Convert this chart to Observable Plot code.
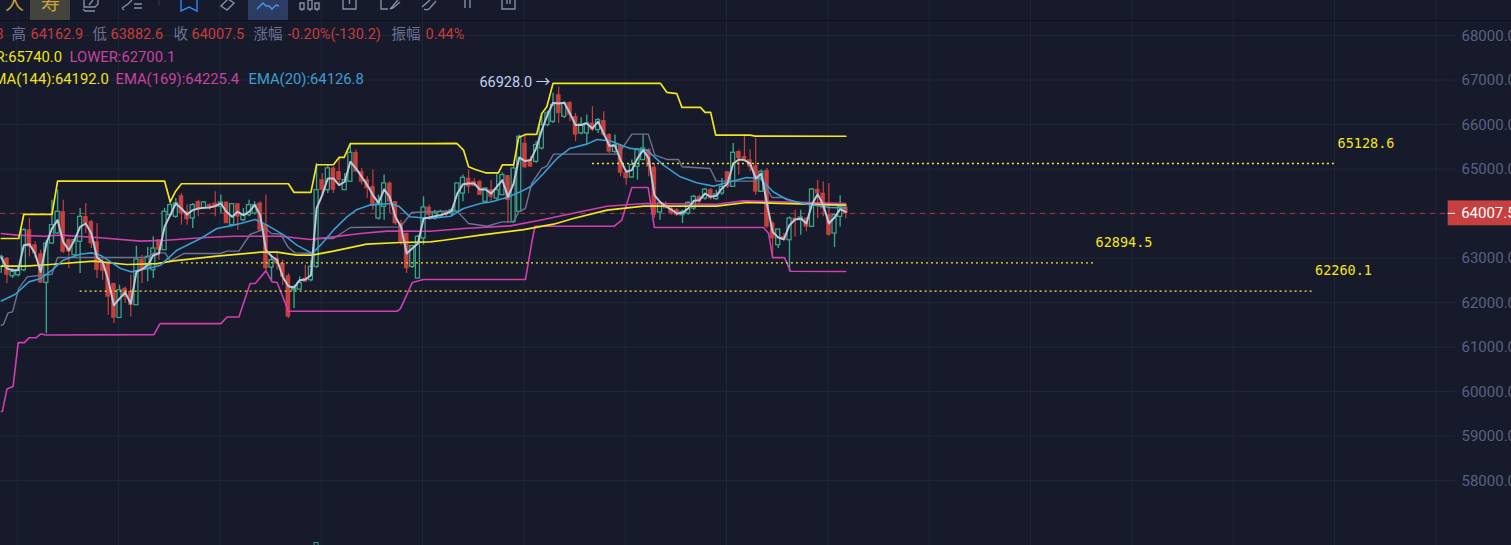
<!DOCTYPE html>
<html><head><meta charset="utf-8">
<script src="https://cdn.jsdelivr.net/npm/d3@7"></script>
<script src="https://cdn.jsdelivr.net/npm/@observablehq/plot@0.6"></script>
<style>
html,body{margin:0;padding:0;background:#161a2b;overflow:hidden}
#wrap{position:relative;width:1511px;height:545px;overflow:hidden}
#bar{position:absolute;left:0;top:0;width:1511px;height:20px;border-bottom:1px solid #0e1120;overflow:hidden;font-family:"Noto Sans CJK SC";}
#bar svg{position:absolute;left:0;top:0}
#bar .t{position:absolute;font-size:19px;line-height:20px;top:-8px;color:#c9a43a}
</style></head><body><div id="wrap"><div id="chart"></div><div id="bar">
<div style="position:absolute;left:30px;top:0;width:40px;height:20px;background:#45433d"></div>
<div style="position:absolute;left:248px;top:0;width:40px;height:20px;background:#2c3c63"></div>
<div class="t" style="left:5px">人</div><div class="t" style="left:41px">寿</div>
<svg width="1511" height="20" fill="none" stroke="#868da6" stroke-width="1.4">
<path d="M84 0v7h11l3-3V0M83 9l2 2h10M89 5l4-5"/><path d="M122 8l6-4 4-4M122 8l2 2M134 4h8M134 8h8"/>
<path d="M159 0v6" stroke="#2c3044"/>
<path d="M181 -2v13l8-4 8 4V-2" stroke="#2f86f0"/>
<path d="M221 6l7-7 6 4-7 7z"/>
<path d="M257 9l6-6 3 3 3 0 3 3 4-4 3 1" stroke="#4c95ee"/>
<path d="M300 3h4v6h-4zM308 0h4v9h-4zM315 3h4v6h-4zM302 9v2M310 9v2M317 9v2"/>
<path d="M343 -1v10h13V-1M349.500 0v4"/><path d="M381 -1v10h7M398 0l-6 7-2 2 3-1 7-6"/>
<path d="M422 7l8-7M424 9q3 2 6-1l6-7"/><path d="M465 0v8M470 0v8"/><path d="M502 -1v10h13V-1M507 0v4M510 0v4"/>
</svg></div></div>
<script>
const open=[62805,62993,62595,62618,62730,63630,63293,63090,62445,63330,
63555,64043,63405,63068,63368,63930,63818,63368,62880,62880,
62430,61658,62318,62243,61943,62970,62768,62730,63405,63180,
63968,63930,64395,64043,63893,64268,64118,64193,64230,64155,
64253,63743,64215,63855,63968,64005,64230,63743,62790,62993,
62880,62595,62280,62295,62543,62505,62805,64755,64530,65018,
64943,64530,64718,65370,64943,64755,64605,63893,64155,64680,
64268,63780,63555,62805,62543,63443,64140,63893,63944,64042,
64004,64042,64454,64792,64717,64717,64267,64529,64342,64417,
64852,63817,64042,65579,65204,65167,65467,65992,66067,66667,
66179,66494,66179,65804,65804,66029,65879,66089,65767,65392,
65527,64919,64814,65054,65204,65429,65039,64027,64229,64117,
64079,63967,64004,64117,64379,64342,64529,64327,64454,64942,
64604,65392,65279,65204,65069,64492,64964,63779,63292,63479,
63404,63892,63854,63892,63704,64544,64454,63967,63554,63929,64137.7];
const close=[63030,62618,62693,62730,63630,63255,63105,62445,63330,63743,
64043,63143,63143,63405,63930,63780,63330,62730,62715,62130,
61658,62280,62130,61943,62970,62730,63030,63218,63180,64043,
64193,64230,64005,63870,64193,64118,64253,64140,64140,64253,
63780,64215,63930,63968,64193,64193,63630,62768,62955,62880,
62580,61680,62318,62445,62468,62805,64530,64530,65018,64530,
64755,64755,65370,64943,64718,64568,64193,64230,64680,64268,
63780,63368,62768,63270,63480,64140,63968,64005,64042,63967,
64079,64679,64807,64604,64619,64417,64567,64379,64529,64867,
64300,65017,65729,65039,65054,65542,65992,66254,66442,66254,
66479,66217,65767,66007,66029,65879,66104,65767,65392,65542,
64919,64792,65092,65429,65467,65054,63967,64229,64117,64004,
63967,64042,64244,64379,64267,64542,64342,64432,64604,64604,
65369,65242,65204,65054,64492,64942,63704,63442,63644,63404,
63892,63854,63914,63704,64544,64454,64117,63517,63967,64154,64007.5];
const high=[63068,63015,62768,62805,63668,63893,63368,63180,63405,64305,
64530,64305,63443,63443,64118,64230,63855,63780,62993,62880,
62430,62393,62355,62618,63270,63068,63240,63480,63405,64118,
64268,64343,64455,64193,64230,64305,64268,64230,64493,64418,
64268,64230,64230,64118,64305,64268,64268,64418,63068,63105,
62955,62655,62393,62580,62843,62955,65130,64905,65093,65055,
65243,64905,65580,65430,65018,64830,64980,64418,64868,64718,
64268,63855,63555,63293,63518,64380,64193,64080,64079,64079,
64117,64679,64867,64979,64792,64754,64567,64754,64882,64917,
64852,65092,65767,65767,65279,65617,66254,66304,66704,66850,
66517,66517,66254,66157,66217,66404,66142,66292,65804,65767,
65542,64979,65204,65467,65767,65467,65129,64267,64267,64154,
64117,64079,64267,64417,64417,64567,64567,64529,64792,64942,
65579,65429,65767,65429,65692,64979,65017,63817,63644,63554,
63929,64079,64079,63914,64567,64754,64717,64679,63989,64402,64162.9];
const low=[62655,62430,62543,62580,62693,63030,62993,62430,61305,63315,
63555,63105,62768,63030,62655,63555,63218,62543,62505,61718,
61530,61658,61980,61680,61943,62430,62468,62543,62955,63180,
63930,63893,63743,63743,63668,63930,64118,64080,63930,64005,
63780,63705,63630,63818,63930,63968,63593,62693,62505,62730,
62393,61643,61868,62280,62468,62468,62768,64418,64455,64455,
64605,64515,64718,64943,64643,64343,64080,63855,63855,64005,
63743,63293,62655,62768,62543,63293,63855,63855,63892,63929,
63929,64042,64267,64454,64604,64417,64229,64267,64304,64417,
63780,63779,64042,65017,65039,65129,65429,65954,66029,66029,
66142,66067,65617,65767,65542,65842,65804,65729,65354,65354,
64829,64642,64792,64754,65204,64829,63892,63854,64117,63967,
63929,63779,63967,64079,64229,64304,64304,64304,64417,64567,
64589,64867,65204,64942,64417,64477,63667,62992,63217,63367,
62692,63479,63517,63592,63704,63892,63929,63494,63239,63704,63882.6];
const fastLine=[63015,62768,62730,62730,63293,63315,63105,62693,63330,63668,
63855,63368,63180,63405,63705,63780,63555,63015,62918,62505,
61943,62093,62228,61980,62693,62753,62843,63068,63105,63705,
63968,64230,64118,63983,64080,64118,64133,64140,64170,64230,
64043,63930,64043,63968,64043,64193,63968,63180,63045,62955,
62580,62370,62340,62505,62520,62618,64118,64418,64793,64793,
64643,64718,65168,65018,64830,64643,64418,64245,64545,64380,
63930,63705,63105,63218,63330,63893,63915,63945,63968,64004,
64064,64454,64664,64679,64679,64544,64544,64454,64604,64754,
64379,64679,65264,65182,65204,65467,65879,66217,66494,66479,
66494,66254,65992,65992,66029,65917,66067,65804,65527,65527,
65204,64942,64979,65242,65429,65242,64417,64267,64169,64094,
64004,64019,64117,64289,64304,64454,64379,64402,64567,64679,
65129,65219,65204,65129,64792,64904,64229,63592,63464,63427,
63742,63869,63892,63779,64214,64439,64192,63779,63914,64102,64042];

const blueBars=[0,2.5,4.9,7,9,11,14,16,17.6,19.4,21.2,23,26,28.3,31.2,35.4,38.3,41.3,43,45.1,47.2,50.2,52.5,55.2,56.7,59,61.4,63.2,65.5,69.1,70.6,72.6,76.2,79.8,82.1,85.1,87.1,89.8,92.2,94,96.3,98.7,101,104,105.8,108.2,111.7,114.7,117.6,120.6,123.5,126.5,129.5,132.4,134.8,137.1,139.5,143.1,147.2,150];
const bluePrices=[62040,62190,62468,62543,62730,62955,63090,63120,63068,62918,62768,62693,62768,62843,63180,63443,63668,63743,63795,63870,63743,63518,63293,63105,63293,63630,63930,64095,64193,64230,64170,63930,63893,63944,64117,64229,64267,64364,64492,64604,64904,65242,65467,65564,65669,65632,65467,65429,65092,64829,64694,64619,64717,64814,64792,64492,64319,64214,64139,64126.8];
const grayBars=[0,0.4,1.2,2,3.1,4.6,7,9,10,25.9,27.1,29.1,30,32.4,38.9,40.1,42.2,44.2,46.9,48,49.6,51,52.2,55.2,55.8,59,62,70.9,72.9,76.2,80.9,83,86.3,88.9,91,91.9,93.1,94.2,96,96.9,98.1,109.6,112,114.9,116.1,118.2,120.3,120.9,125.9,127,133.9,134.8,136.9,138.9,141,143.7,150];
const grayPrices=[61493,61515,61770,61793,62318,62580,62618,62640,63015,63015,63120,63120,62940,63105,63105,63158,63158,63533,63668,63555,63540,63240,63120,63105,63443,63443,63690,63705,64028,64043,64064,63779,63719,63817,63817,64042,64117,64679,65017,65069,65339,65339,65789,65789,65317,65219,65219,65054,65017,64732,64732,64829,64364,64364,64267,64214,64170];
const upperBars=[0,3.1,4,9,10,29,30,30.9,32,51,52,55,56,59,60,60.9,62,76.2,80.9,82.1,83,84.2,86,88.3,89,91,91.9,93.1,95.1,96,96.9,98,117.1,118.2,120,120.9,124.2,125,126,126.9,133,133.9,150];
const upperPrices=[63443,63443,63983,63983,64733,64733,64268,64493,64673,64673,64478,64478,65100,65100,65265,65265,65573,65573,65579,65429,65054,64994,64919,64919,65099,65099,65714,65782,65782,66254,66404,66928,66928,66727,66697,66389,66389,66277,66277,65767,65767,65744,65740];
const lowerBars=[0,0.2,1,2.1,3,4.1,5,6.2,7,8,27.1,28.2,39,40.1,42.2,44.2,45.1,47,48.1,49,51,70.3,70.9,73,75,93.1,94.3,94.8,108.9,110.2,112,114.9,116,135.4,136.3,137,139.1,140.2,150];
const lowerPrices=[59556,59556,60059,60119,61102,61102,61214,61214,61297,61274,61283,61530,61530,61680,61680,62430,62430,62715,62468,62453,61808,61808,61868,62453,62520,62520,63404,63719,63719,63854,64589,64589,63689,63689,63554,63014,63014,62706,62700.1];
const ema144Bars=[0,4.3,8.7,16.4,22.3,27.7,30.6,38.3,46,49,52.5,55.2,59,64.9,70.9,76.2,78.6,85.1,92.8,98.1,101.6,107.6,114.1,127,132.4,150];
const ema144Prices=[62820,62820,62858,62933,62858,62880,62940,63045,63135,63135,63068,63068,63158,63315,63353,63368,63404,63517,63644,63764,63892,64079,64169,64169,64252,64192];
const ema169Bars=[0,2.8,7.6,10.5,17.6,24.7,29.4,35.4,41.3,49.6,54.9,59,63.8,68.5,76.2,82.1,90.4,95.7,102.2,107.6,114.1,127,131.8,138.3,150];
const ema169Prices=[63555,63518,63495,63518,63458,63383,63405,63458,63495,63495,63420,63480,63555,63608,63607,63667,63727,63854,64027,64169,64229,64214,64289,64267,64225.4];

const priceTicks=[58000,59000,60000,61000,62000,63000,64000,65000,66000,67000,68000];
const gridBars=[2.8,20.8,38.8,56.8,74.8,92.8,110.8,128.8,146.8,164.8,182.8,200.8,218.8,236.8,254.8];
const lastPrice=64007.5, peakPrice=66928;
const levels=[{p:65128.6,from:105,to:237},{p:62894.5,from:32,to:194},{p:62260.1,from:14,to:233}];
const volumeTop=[{i:56,p0:56500,p1:56600}];

const legendTexts=["3","高","64162.9","低","63882.6","收","64007.5","涨幅","-0.20%(-130.2)","振幅","0.44%","R:65740.0","LOWER:62700.1","MA(144):64192.0","EMA(169):64225.4","EMA(20):64126.8"];
const legendColors=["#c63c3c","#6d7492","#c63c3c","#6d7492","#c63c3c","#6d7492","#c63c3c","#6d7492","#c63c3c","#6d7492","#c63c3c","#efe321","#c9429f","#efe321","#c9429f","#3f9ecf"];
const legendDx=[-5,11,30,92,110,173,191,253,287,391,425,-5,69,-7,115,248];
const legendDy=[34,34,34,34,34,34,34,34,34,34,34,57,57,79,79,79];

const bars=open.map((_,i)=>i);
const up=bars.filter(i=>close[i]>=open[i]), down=bars.filter(i=>close[i]<open[i]);
const BG="#161a2b",RED="#c8403e",GREEN="#3aa387",W=.36;
const line=(xs,ys,stroke,sw,extra={})=>Plot.line(xs.map((x,k)=>[x,ys[k]]),{x:"0",y:"1",stroke,strokeWidth:sw,...extra});
const font='Roboto,"Noto Sans CJK SC",sans-serif';
const mono='"DejaVu Sans Mono",monospace';

const chart=Plot.plot({
 width:1511,height:545,marginLeft:0,marginRight:56,marginTop:0,marginBottom:0,
 style:{background:BG,fontFamily:font},
 x:{domain:[-0.142,258.3],axis:null},
 y:{domain:[56544,68791],range:[545,0]},
 marks:[
  Plot.ruleY(priceTicks,{stroke:"#1f2436",strokeWidth:1.2}),
  Plot.ruleX(gridBars,{stroke:"#1f2436",strokeWidth:1.2}),
  Plot.axisY(priceTicks,{anchor:"right",tickSize:0,tickPadding:6,label:null,color:"#596181",fontSize:15,tickFormat:d=>d.toFixed(1)}),
  Plot.ruleY([lastPrice],{stroke:RED,strokeWidth:1,strokeDasharray:"5,5",strokeOpacity:.85}),
  Plot.ruleX(bars,{filter:i=>close[i]>=open[i],x:i=>i,y1:i=>low[i],y2:i=>high[i],stroke:GREEN,strokeWidth:1.4}),
  Plot.ruleX(bars,{filter:i=>close[i]<open[i],x:i=>i,y1:i=>low[i],y2:i=>high[i],stroke:RED,strokeWidth:1.2}),
  Plot.rect(up,{x1:i=>i-W,x2:i=>i+W,y1:i=>open[i],y2:i=>close[i],fill:BG,stroke:GREEN,strokeWidth:1.3}),
  Plot.rect(down,{x1:i=>i-W,x2:i=>i+W,y1:i=>open[i],y2:i=>close[i],fill:RED,stroke:RED,strokeWidth:.5}),
  Plot.rect(volumeTop,{x1:d=>d.i-W,x2:d=>d.i+W,y1:"p0",y2:"p1",fill:BG,stroke:GREEN,strokeWidth:1}),
  line(grayBars,grayPrices,"#6d7490",1.4),
  line(lowerBars,lowerPrices,"#d13fae",1.6),
  line(ema169Bars,ema169Prices,"#d13fae",1.6),
  line(upperBars,upperPrices,"#f3e61c",1.7),
  line(ema144Bars,ema144Prices,"#f3e61c",1.7),
  line(blueBars,bluePrices,"#3a9dd2",1.6),
  Plot.line(bars,{x:i=>i,y:i=>fastLine[i],stroke:"#bcc7d8",strokeWidth:2}),
  ...levels.map(l=>Plot.ruleY([l.p],{x1:l.from,x2:l.to,stroke:"#f6ea3a",strokeWidth:1.3,strokeDasharray:"2,3"})),
  Plot.text(levels,{x:"to",y:"p",text:d=>d.p.toFixed(1),dx:2,dy:-20,textAnchor:"start",fill:"#f3e61c",fontFamily:mono,fontSize:13.5}),
  Plot.text([peakPrice],{x:[97.5],y:d=>d,text:d=>d.toFixed(1)+" →",textAnchor:"end",dy:-1,fill:"#c6cfee",fontSize:14.5}),
  Plot.rect([lastPrice],{x1:[257],x2:[272],y1:d=>d-280,y2:d=>d+280,fill:"#c83f40",clip:false}),
  Plot.ruleY([lastPrice],{x1:[257],x2:[258.3],stroke:"#fff"}),
  Plot.text([lastPrice],{x:[259.3],y:d=>d,text:d=>d.toFixed(1),textAnchor:"start",fill:"#fff",fontSize:15,clip:false}),
  ...legendTexts.map((t,k)=>Plot.text([t],{frameAnchor:"top-left",dx:legendDx[k],dy:legendDy[k],text:d=>d,lineAnchor:"middle",textAnchor:"start",fill:legendColors[k],fontSize:legendDy[k]>40?14.8:14.5}))
 ]
});
document.getElementById("chart").appendChild(chart);
</script></body></html>
